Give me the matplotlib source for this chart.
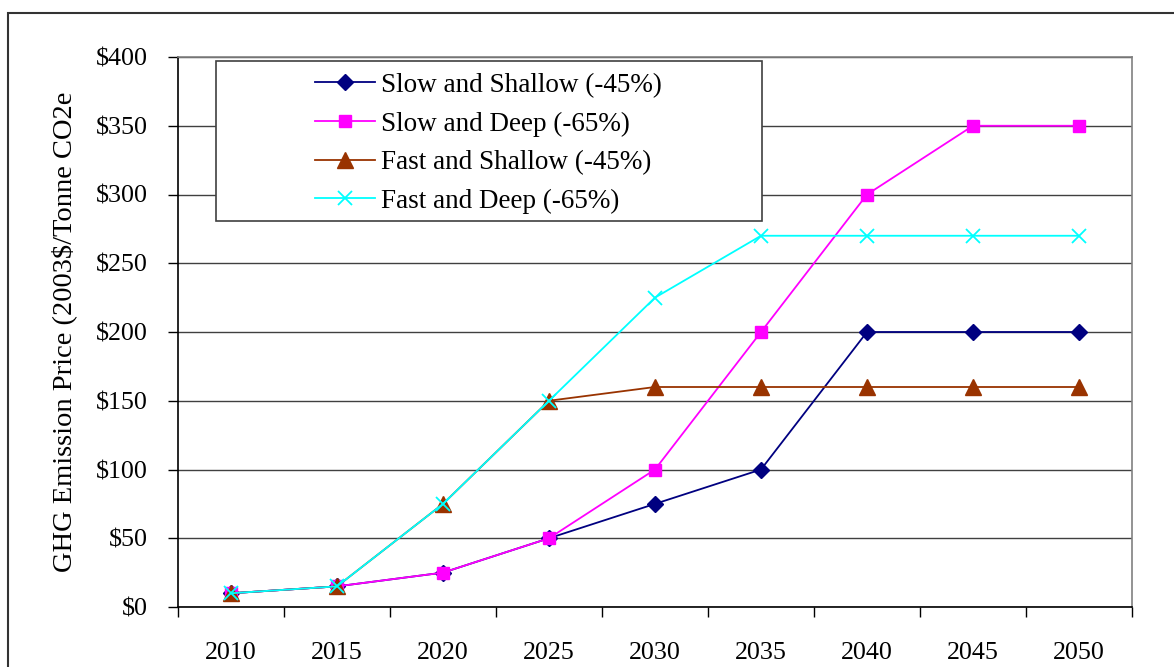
import matplotlib.pyplot as plt
from matplotlib.patches import Rectangle
from matplotlib.ticker import FixedLocator, NullFormatter

# Carbon price scenarios, 2003$ per tonne CO2e
years = ['2010', '2015', '2020', '2025', '2030', '2035', '2040', '2045', '2050']
slow_shallow = [10, 15, 25, 50, 75, 100, 200, 200, 200]
slow_deep = [10, 15, 25, 50, 100, 200, 300, 350, 350]
fast_shallow = [10, 15, 75, 150, 160, 160, 160, 160, 160]
fast_deep = [10, 15, 75, 150, 225, 270, 270, 270, 270]

labels = ['Slow and Shallow (-45%)', 'Slow and Deep (-65%)',
          'Fast and Shallow (-45%)', 'Fast and Deep (-65%)']

plt.rcParams['font.family'] = ['Liberation Serif', 'DejaVu Serif']

W, H = 1174, 667
fig = plt.figure(figsize=(W / 100, H / 100), dpi=100)
ax = fig.add_axes([178 / W, 1 - 607 / H, (1132 - 178) / W, (607 - 57) / H])

# outer chart border
fig.patches.append(Rectangle((8 / W, -0.2), 1.2, 1.2 - 13 / H, transform=fig.transFigure,
                             fill=False, edgecolor='#333333', linewidth=1.5))

x = list(range(len(years)))
lw = 1.3
ax.plot(x, slow_shallow, color='#000080', lw=lw, marker='D', markersize=8, label=labels[0], zorder=3)
ax.plot(x, slow_deep, color='#FF00FF', lw=lw, marker='s', markersize=8.5, label=labels[1], zorder=3)
ax.plot(x, fast_shallow, color='#993300', lw=lw, marker='^', markersize=11, label=labels[2], zorder=3)
ax.plot(x, fast_deep, color='#00FFFF', lw=lw, marker='x', markersize=10, markeredgewidth=1.3,
        label=labels[3], zorder=3)

ax.set_xlim(-0.5, len(years) - 0.5)
ax.set_ylim(0, 400)
ax.set_yticks(range(0, 401, 50))
ax.set_yticklabels(['${}'.format(v) for v in range(0, 401, 50)])
ax.yaxis.grid(True, color='#404040', linewidth=1.0)
ax.set_axisbelow(True)

# category boundaries get tick marks, centres get the labels
ax.xaxis.set_major_locator(FixedLocator([i - 0.5 for i in range(len(years) + 1)]))
ax.xaxis.set_major_formatter(NullFormatter())
ax.xaxis.set_minor_locator(FixedLocator(x))
ax.set_xticklabels(years, minor=True)
ax.tick_params(axis='x', which='major', direction='out', length=7, width=1, color='black')
ax.tick_params(axis='x', which='minor', length=0, pad=25, labelsize=18.7)
ax.tick_params(axis='y', direction='out', length=7, width=1, pad=15, labelsize=18.7)

for s in ['top', 'right']:
    ax.spines[s].set_color('#808080')
for s in ['left', 'bottom']:
    ax.spines[s].set_color('black')
for s in ax.spines.values():
    s.set_linewidth(1.2)

ax.set_ylabel('GHG Emission Price (2003$/Tonne CO2e', fontsize=20.5)
ax.yaxis.set_label_coords(-0.106, 0.5)

# legend box with entries set off to the right
ax.add_patch(Rectangle((0.0398, 0.7018), 0.5724, 0.2909, transform=ax.transAxes,
                       facecolor='white', edgecolor='#404040', linewidth=1.2, zorder=4))
leg = ax.legend(loc='upper left', bbox_to_anchor=(0.1436, 0.9710), frameon=False,
                fontsize=19.5, handlelength=2.2, handletextpad=0.22, labelspacing=0.5,
                borderpad=0, borderaxespad=0)
leg.set_zorder(5)

fig.savefig('out.png', dpi=100)
